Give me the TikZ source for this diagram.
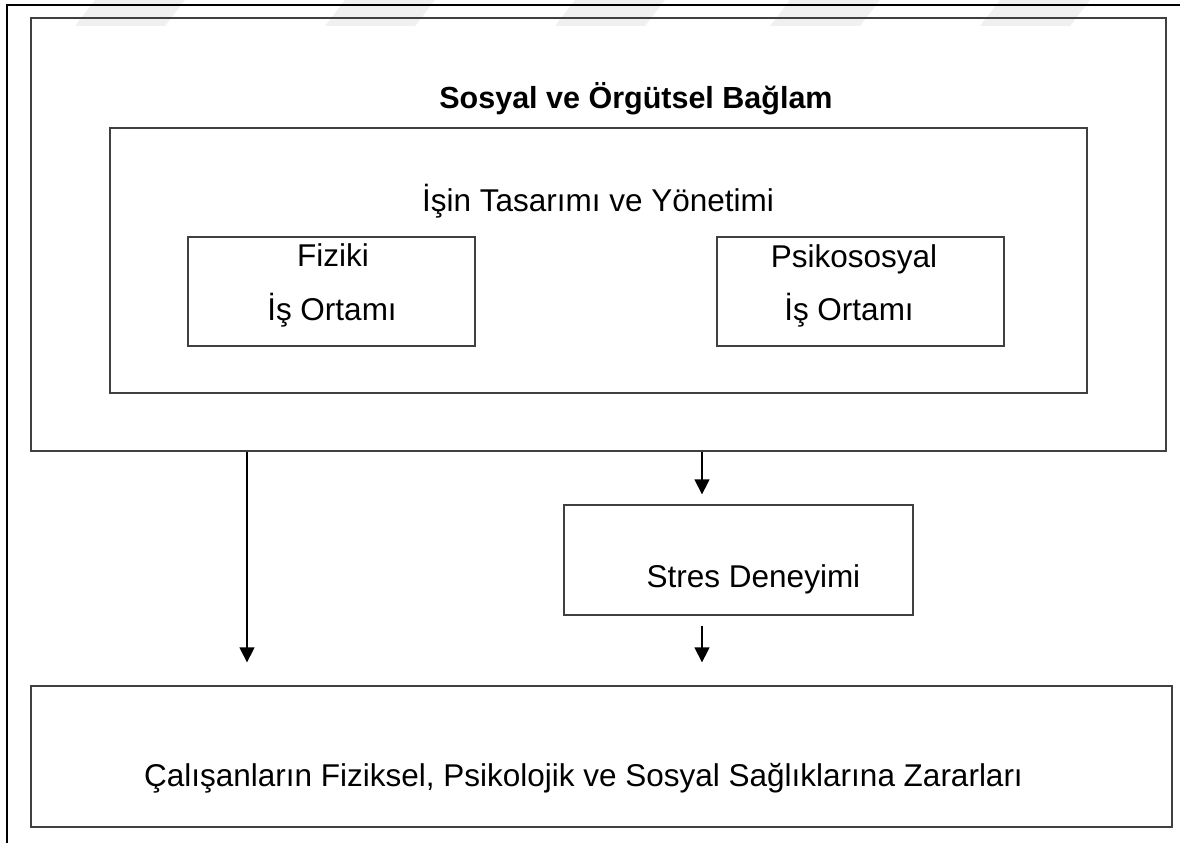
\documentclass[tikz,border=0pt]{standalone}
\usepackage{fontspec}
\setmainfont{Liberation Sans}
\usetikzlibrary{arrows.meta}
\begin{document}
\begin{tikzpicture}[x=1pt,y=-1pt,
  box/.style={draw=black!75,line width=1.3pt,inner sep=0pt},
  lbl/.style={anchor=base,inner sep=0pt,font=\fontsize{31.5}{37}\selectfont},
  ttl/.style={anchor=base,inner sep=0pt,font=\fontsize{30.5}{37}\selectfont\bfseries},
  arr/.style={draw=black,line width=1.3pt,-{Triangle[width=15pt,length=15pt]}},
  frame/.style={draw=black,line width=2.6pt}]
\useasboundingbox (0,0) rectangle (1180,843);
\fill[white] (0,0) rectangle (1180,843);

% faint stripes along the top edge
\foreach \a in {95,345,575,790,1000}
  \fill[black!6] (\a,0) -- (\a+90,0) -- (\a+70,26) -- (\a-20,26) -- cycle;

% page frame (top and left)
\draw[frame] (7,843) -- (7,5) -- (1180,5);

% boxes
\node[box,minimum width=1135pt,minimum height=433pt] (ctx) at (598.5,234.5) {};
\node[box,minimum width=977pt,minimum height=265pt] (work) at (598.5,260.5) {};
\node[box,minimum width=287pt,minimum height=109pt] (phys) at (331.5,291.5) {};
\node[box,minimum width=287pt,minimum height=109pt] (psy) at (860.5,291.5) {};
\node[box,minimum width=349pt,minimum height=110pt] (stress) at (738.5,560) {};
\node[box,minimum width=1141pt,minimum height=141pt] (harm) at (601.5,756.5) {};

% texts
\node[ttl] (tctx) at (636,108) {Sosyal ve Örgütsel Bağlam};
\node[lbl] (twork) at (598,211) {İşin Tasarımı ve Yönetimi};
\node[lbl] (tphys1) at (333,266) {Fiziki};
\node[lbl] (tphys2) at (332,320) {İş Ortamı};
\node[lbl] (tpsy1) at (854,267) {Psikososyal};
\node[lbl] (tpsy2) at (849,320) {İş Ortamı};
\node[lbl] (tstress) at (753.5,587) {Stres Deneyimi};
\node[lbl] (tharm) at (583.5,786) {Çalışanların Fiziksel, Psikolojik ve Sosyal Sağlıklarına Zararları};

% connectors
\coordinate (xl) at (247,0);
\coordinate (xm) at (702,0);
\draw[arr,shorten >=23pt] (ctx.south -| xl) -- (harm.north -| xl);
\draw[arr,shorten >=10pt] (ctx.south -| xm) -- (stress.north -| xm);
\draw[arr,shorten <=10pt,shorten >=23pt] (stress.south -| xm) -- (harm.north -| xm);
\end{tikzpicture}
\end{document}
